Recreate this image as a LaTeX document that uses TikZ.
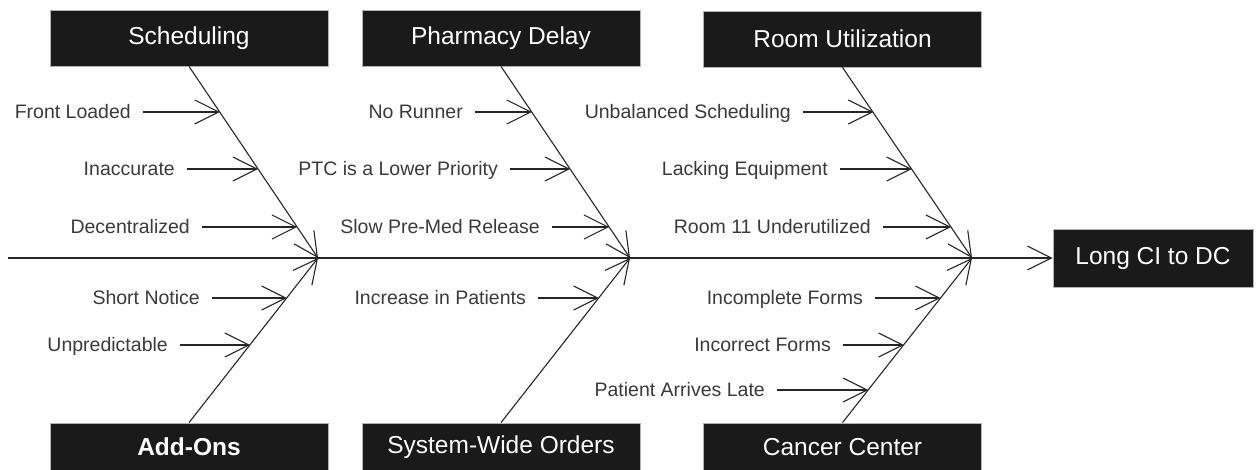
\documentclass[tikz,border=0pt]{standalone}
\usepackage{fontspec}
\setmainfont{Liberation Sans}
\usepackage{tikz}
\usetikzlibrary{arrows.meta,positioning,calc}
\definecolor{boxfill}{HTML}{1A1A1A}
\definecolor{causetext}{HTML}{3A3A3A}

\begin{document}
\begin{tikzpicture}[
    x=1pt, y=-1pt,
    head/.style={rectangle, draw=gray!60, line width=0.8pt, fill=boxfill, text=white, font=\fontsize{24.5}{28}\selectfont, minimum width=278pt, minimum height=56pt, inner sep=0pt},
    cause/.style={anchor=east, inner xsep=12pt, inner ysep=0pt, text height=13.5pt, text depth=0pt, text=causetext, font=\fontsize{19.5}{23}\selectfont},
    bone/.style={line width=1.1pt, draw=black!85, -{Straight Barb[length=24pt,width=24pt]}},
    twig/.style={bone}
]
    \useasboundingbox (0,0) rectangle (1259,470);

    \node[head] (sched) at (189,38) {Scheduling};
    \node[head] (pharm) at (501,38) {Pharmacy Delay};
    \node[head] (room) at (842.5,39) {Room Utilization};
    \node[head, minimum height=48pt] (addons) at (189,447) {\textbf{Add-Ons}};
    \node[head, minimum height=48pt] (orders) at (501,447) {System-Wide Orders};
    \node[head, minimum height=48pt] (cancer) at (842.5,447) {Cancer Center};
    \node[head, minimum width=200pt, minimum height=58pt] (effect) at (1153,258) {Long CI to DC};

    \coordinate (tail) at (8,258);
    \coordinate (j1) at (318,258);
    \coordinate (j2) at (630,258);
    \coordinate (j3) at (972,258);

    \draw[bone] (tail) -- (effect);
    \draw[bone] (sched.south) -- (j1);
    \draw[bone] (addons.north) -- (j1);
    \draw[bone] (pharm.south) -- (j2);
    \draw[bone] (orders.north) -- (j2);
    \draw[bone] (room.south) -- (j3);
    \draw[bone] (cancer.north) -- (j3);

    % points on the bones
    \coordinate (s1) at ($(sched.south)!.24!(j1)$);
    \coordinate (s2) at ($(sched.south)!.536!(j1)$);
    \coordinate (s3) at ($(sched.south)!.839!(j1)$);
    \coordinate (a1) at ($(addons.north)!.758!(j1)$);
    \coordinate (a2) at ($(addons.north)!.473!(j1)$);
    \coordinate (p1) at ($(pharm.south)!.24!(j2)$);
    \coordinate (p2) at ($(pharm.south)!.536!(j2)$);
    \coordinate (p3) at ($(pharm.south)!.839!(j2)$);
    \coordinate (o1) at ($(orders.north)!.758!(j2)$);
    \coordinate (r1) at ($(room.south)!.24!(j3)$);
    \coordinate (r2) at ($(room.south)!.536!(j3)$);
    \coordinate (r3) at ($(room.south)!.839!(j3)$);
    \coordinate (c1) at ($(cancer.north)!.758!(j3)$);
    \coordinate (c2) at ($(cancer.north)!.473!(j3)$);
    \coordinate (c3) at ($(cancer.north)!.2!(j3)$);

    \node[cause] (front) at (143,112) {Front Loaded};
    \node[cause] (inacc) at (187,169) {Inaccurate};
    \node[cause] (decen) at (202,227) {Decentralized};
    \node[cause] (short) at (212,298) {Short Notice};
    \node[cause] (unpred) at (180,345) {Unpredictable};
    \node[cause] (runner) at (475,112) {No Runner};
    \node[cause] (ptc) at (510,169) {PTC is a Lower Priority};
    \node[cause] (premed) at (552,227) {Slow Pre-Med Release};
    \node[cause] (incr) at (538,298) {Increase in Patients};
    \node[cause] (unbal) at (803,112) {Unbalanced Scheduling};
    \node[cause] (equip) at (840,169) {Lacking Equipment};
    \node[cause] (room11) at (883,227) {Room 11 Underutilized};
    \node[cause] (incompl) at (875,298) {Incomplete Forms};
    \node[cause] (incorr) at (843,345) {Incorrect Forms};
    \node[cause] (late) at (777,390) {Patient Arrives Late};

    \draw[twig] (front) -- (front -| s1);
    \draw[twig] (inacc) -- (inacc -| s2);
    \draw[twig] (decen) -- (decen -| s3);
    \draw[twig] (short) -- (short -| a1);
    \draw[twig] (unpred) -- (unpred -| a2);
    \draw[twig] (runner) -- (runner -| p1);
    \draw[twig] (ptc) -- (ptc -| p2);
    \draw[twig] (premed) -- (premed -| p3);
    \draw[twig] (incr) -- (incr -| o1);
    \draw[twig] (unbal) -- (unbal -| r1);
    \draw[twig] (equip) -- (equip -| r2);
    \draw[twig] (room11) -- (room11 -| r3);
    \draw[twig] (incompl) -- (incompl -| c1);
    \draw[twig] (incorr) -- (incorr -| c2);
    \draw[twig] (late) -- (late -| c3);
\end{tikzpicture}
\end{document}
